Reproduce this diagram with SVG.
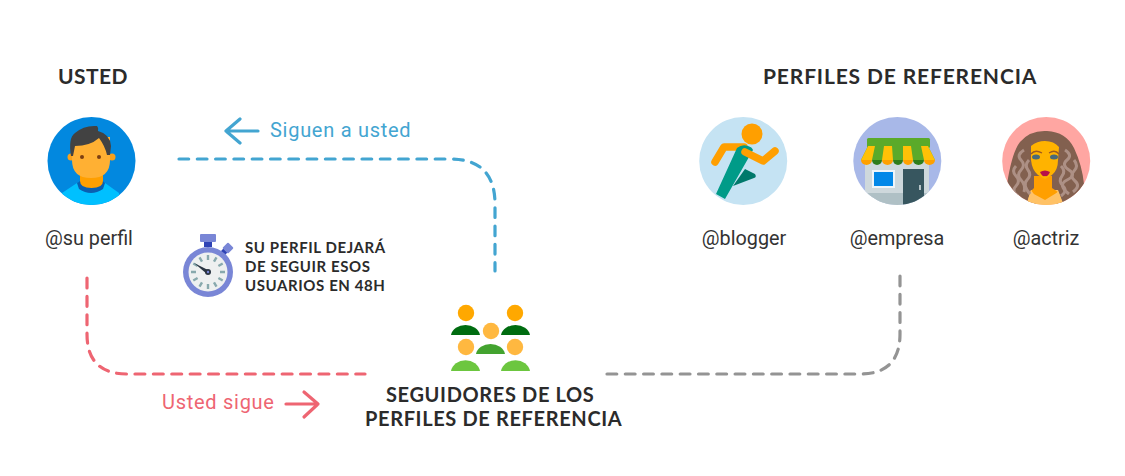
<svg xmlns="http://www.w3.org/2000/svg" width="1125" height="476" viewBox="0 0 1125 476">
<style>
.h{font-family:"Lato","Liberation Sans",sans-serif;font-weight:700;fill:#2b2b2b;font-size:20px;letter-spacing:.64px}
.t{font-size:21px;letter-spacing:.85px}
.s{font-family:"Lato","Liberation Sans",sans-serif;font-weight:700;fill:#2b2b2b;font-size:15px;letter-spacing:.6px}
.l{font-family:"Roboto","Liberation Sans",sans-serif;fill:#333;font-size:19.8px;text-anchor:middle}
.c{font-family:"Roboto","Liberation Sans",sans-serif;font-size:20px;letter-spacing:.72px}
.d{fill:none;stroke-width:3.2;stroke-linecap:round}
.a{fill:none;stroke-width:3.2;stroke-linecap:round;stroke-linejoin:round}
.w{fill:none;stroke:#ff9f00;stroke-width:7.500;stroke-linecap:round;stroke-linejoin:round}
</style>
<defs>
<clipPath id="cb"><circle cx="897.300" cy="161" r="44"/></clipPath>
<clipPath id="ca"><circle cx="1046.200" cy="161" r="44"/></clipPath>
<clipPath id="cu"><circle cx="91.500" cy="161" r="44"/></clipPath>
<clipPath id="cg"><circle cx="743.200" cy="161" r="44"/></clipPath>
</defs>
<rect width="1125" height="476" fill="#fff"/>
<g id="connectors">
<path class="d" stroke="#43a5d1" stroke-dasharray="9.700 8.600" d="M179 159H450Q495 159 495 204V271"/>
<path class="d" stroke="#ee6572" stroke-dasharray="9.900 8.500" d="M87 278V334Q87 374 127 374H365"/>
<path class="d" stroke="#949494" stroke-dasharray="9.800 8.500" d="M607 374H860Q900 374 900 334V276"/>
<path class="a" stroke="#43a5d1" d="M258 131H226M240 119L226 131L240 143"/>
<path class="a" stroke="#ee6572" d="M286 404H318M304 392L318 404L304 417"/>
</g>
<g id="node-usted">
<text class="h t" x="58" y="84" style="letter-spacing:.4px">USTED</text>
<circle cx="91.500" cy="161" r="44" fill="#0288df"/>
<g clip-path="url(#cu)">
<path d="M62 193L77 183H105L119 193L119 206H62Z" fill="#00c0ff"/>
<path d="M77 183Q78 183 80 181H103Q104 183 105 183L103 189Q97 193 91 193Q85 193 79 189Z" fill="#0a5fb0"/>
<path d="M80 170H103V181Q103 188 91.500 188Q80 188 80 181Z" fill="#ff9f00"/>
</g>
<circle cx="71" cy="157" r="3.500" fill="#f9a11b"/><circle cx="112" cy="157" r="3.500" fill="#f9a11b"/>
<path d="M72 137H110V160Q110 178 91 178Q72 178 72 160Z" fill="#ffb033"/>
<path d="M71 156Q68 138 75 133Q84 125 97 126Q99 128 98 131Q110 134 111 146L110 155L107 155Q105 146 99 138Q90 146 75 146Q74 151 73 156Z" fill="#424242"/>
<circle cx="82" cy="157" r="2" fill="#7c3f12"/><circle cx="99" cy="157" r="2" fill="#7c3f12"/>
<text class="l" x="89" y="245">@su perfil</text>
</g>
<g id="node-blogger">
<circle cx="743.200" cy="161" r="44" fill="#c5e3f3"/>
<path class="w" d="M715 162L724 147H744"/>
<path d="M745 169L755 174Q757 177 754 178L733 186Z" fill="#00796b"/>
<g clip-path="url(#cg)"><path d="M737 148Q742 144 748 146Q752 147 753 150L725 199L716 194Z" fill="#009b88"/></g>
<circle cx="752" cy="134" r="10.500" fill="#ff9f00"/>
<path class="w" d="M745 152L763 161L775 151"/>
<text class="l" x="744" y="245">@blogger</text>
</g>
<g id="node-empresa">
<circle cx="897.300" cy="161" r="44" fill="#a8b8e8"/>
<g clip-path="url(#cb)">
<path d="M865 160H929V206H865Z" fill="#ced8dc"/>
<path d="M865 193H929V206H865Z" fill="#afc0c5"/>
<rect x="903" y="169" width="21" height="36" fill="#37565f"/>
</g>
<rect x="872" y="170" width="23" height="18" fill="#eef5fa"/>
<rect x="874" y="172" width="19" height="14" fill="#0288e8"/>
<rect x="919" y="185" width="2" height="5" fill="#b5c4c8"/>
<rect x="867" y="138" width="63" height="10" rx="1.500" fill="#5aaa2a"/>
<path d="M868 146H928L935 160H861Z" fill="#5aaa2a"/>
<path d="M868 146H875L872 160H861Z M884 146H892L893 160H882Z M903 146H911L913 160H903Z M921 146H928L935 160H924Z" fill="#ffc107"/>
<g fill="#ffa000"><path d="M861 160H872A5.500 5 0 0 1 861 160Z"/><path d="M882 160H893A5.500 5 0 0 1 882 160Z"/><path d="M903 160H913A5 5 0 0 1 903 160Z"/><path d="M924 160H935A5.500 5 0 0 1 924 160Z"/></g>
<g fill="#2f7d1a"><path d="M872 160H882A5 5 0 0 1 872 160Z"/><path d="M893 160H903A5 5 0 0 1 893 160Z"/><path d="M913 160H924A5.500 5 0 0 1 913 160Z"/></g>
<text class="l" x="897" y="245">@empresa</text>
</g>
<g id="node-actriz">
<circle cx="1046.200" cy="161" r="44" fill="#ffa6a2"/>
<g clip-path="url(#ca)">
<path d="M1007 184Q1012 152 1020 142Q1030 130 1047 131Q1066 132 1074 148Q1082 165 1084 184Q1075 198 1062 204H1028Q1014 196 1007 184Z" fill="#82604f"/>
<path d="M1031 190H1058L1064 206H1026Z" fill="#ffc266"/>
<path d="M1034 176H1052V188L1058 192L1045 200L1030 192L1034 188Z" fill="#ff9f00"/>
<path d="M1031 190L1038 200L1045 203L1052 200L1058 191L1064 206H1026Z" fill="#ffc266"/>
</g>
<path d="M1031 146Q1037 141 1045 141Q1054 141 1059 147L1058 160Q1058 170 1052 175L1045 179L1038 175Q1032 170 1031 160Z" fill="#ffb300"/>
<path d="M1031 154Q1035 149 1042 153M1049 153Q1055 149 1059 154" stroke="#9c5a20" stroke-width="1.300" fill="none"/>
<ellipse cx="1036" cy="157" rx="4" ry="2.500" fill="#4a6a78"/><ellipse cx="1054" cy="157" rx="4" ry="2.500" fill="#4a6a78"/>
<path d="M1040 172Q1045 169 1050 172Q1048 177 1045 176Q1042 177 1040 172Z" fill="#b80f4a"/>
<g fill="none" stroke="#ad9085" stroke-width="3" clip-path="url(#ca)">
<path d="M1024 150Q1016 155 1021 160T1021 170T1021 180T1024 192"/>
<path d="M1016 166Q1011 171 1016 176T1016 186T1018 196"/>
<path d="M1029 160Q1024 165 1028 170T1027 180T1030 194"/>
<path d="M1065 150Q1073 155 1067 160T1069 170T1067 180T1069 194"/>
<path d="M1074 160Q1079 166 1074 171T1075 181T1073 192"/>
<path d="M1061 166Q1066 171 1062 176T1063 186T1061 196"/>
</g>
<text class="l" x="1046" y="245">@actriz</text>
</g>
<g id="label-perfiles">
<text class="h t" x="763" y="84">PERFILES DE REFERENCIA</text>
</g>
<g id="label-siguen"><text class="c" fill="#43a5d1" x="270" y="137">Siguen a usted</text></g>
<g id="label-sigue"><text class="c" fill="#ee6572" x="162" y="409">Usted sigue</text></g>
<g id="node-timer">
<rect x="200" y="234" width="16" height="8" rx="1" fill="#7986d6"/>
<rect x="204" y="242" width="8" height="5" fill="#2f43b5"/>
<path d="M222 250L226 254" stroke="#2f43b5" stroke-width="4"/>
<rect x="224" y="244" width="8" height="8" rx="1" fill="#7986d6" transform="rotate(45 228 248)"/>
<circle cx="208" cy="272" r="25" fill="#7986d6"/>
<circle cx="208" cy="272" r="19.500" fill="#eef0f0"/>
<g stroke="#88a9ad" stroke-width="2.400">
<path d="M208 255V260M208 284V289M191 272H196M220 272H225M199.500 257.300L202 261.600M214 282.400L216.500 286.700M193.300 263.500L197.600 266M218.400 278L222.700 280.500M193.300 280.500L197.600 278M218.400 266L222.700 263.500M199.500 286.700L202 282.400M214 261.600L216.500 257.300"/>
</g>
<path d="M194 263L209 270.500L207 274Z" fill="#2b3542"/>
<circle cx="208" cy="272" r="3" fill="#2b3542"/><circle cx="208" cy="272" r="1.200" fill="#7986d6"/>
<text class="s" x="245" y="253">SU PERFIL DEJARÁ</text>
<text class="s" x="245" y="272">DE SEGUIR ESOS</text>
<text class="s" x="245" y="291">USUARIOS EN 48H</text>
</g>
<g id="node-seguidores">
<g fill="#ffa800"><circle cx="466" cy="313" r="8.200"/><circle cx="515" cy="313" r="8.200"/></g>
<g fill="#ffb840"><circle cx="491" cy="331" r="8.200"/><circle cx="466" cy="347" r="8.200"/><circle cx="515" cy="347" r="8.200"/></g>
<g fill="#006c10"><path d="M451 335A14.700 12 0 0 1 480 335Z"/><path d="M501 335A14.700 12 0 0 1 530 335Z"/></g>
<path d="M476 354A14.700 12 0 0 1 505 354Z" fill="#43a32f"/>
<g fill="#6cc63f"><path d="M451 371A14.700 13 0 0 1 480 371Z"/><path d="M501 371A14.700 13 0 0 1 530 371Z"/></g>
<text class="h" x="386" y="402">SEGUIDORES DE LOS</text>
<text class="h" x="365" y="426">PERFILES DE REFERENCIA</text>
</g>
</svg>
